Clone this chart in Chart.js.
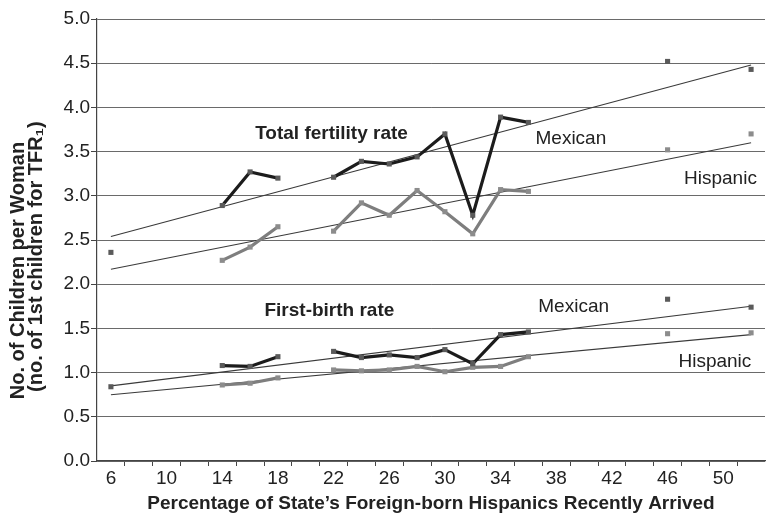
<!DOCTYPE html>
<html>
<head>
<meta charset="utf-8">
<script src="https://cdn.jsdelivr.net/npm/chart.js@4/dist/chart.umd.min.js"></script>
<style>
  html, body { margin: 0; padding: 0; background: #fff; }
  #wrap { width: 769px; height: 514px; position: relative; }
</style>
</head>
<body>
<div id="wrap"><canvas id="c" width="769" height="514"></canvas></div>
<script>
// Percentage of state's foreign-born Hispanics recently arrived (category positions)
const pct = [6, 8, 10, 12, 14, 16, 18, 20, 22, 24, 26, 28, 30, 32, 34, 36, 38, 40, 42, 44, 46, 48, 50, 52];

// Total fertility rate
const tfrMexican  = [2.36, null, null, null, 2.89, 3.27, 3.20, null, 3.21, 3.39, 3.36, 3.44, 3.70, 2.78, 3.89, 3.83, null, null, null, null, 4.52, null, null, 4.43];
const tfrHispanic = [null, null, null, null, 2.27, 2.42, 2.65, null, 2.60, 2.92, 2.78, 3.06, 2.82, 2.57, 3.07, 3.05, null, null, null, null, 3.52, null, null, 3.70];

// First-birth rate
const fbMexican   = [0.84, null, null, null, 1.08, 1.07, 1.18, null, 1.24, 1.17, 1.20, 1.17, 1.26, 1.10, 1.43, 1.46, null, null, null, null, 1.83, null, null, 1.74];
const fbHispanic  = [null, null, null, null, 0.86, 0.88, 0.94, null, 1.03, 1.02, 1.03, 1.07, 1.01, 1.06, 1.07, 1.18, null, null, null, null, 1.44, null, null, 1.45];

// Fitted trend lines (end points)
const trendX        = [6, 52];
const tfrMexTrend   = [2.54, 4.48];
const tfrHispTrend  = [2.17, 3.60];
const fbMexTrend    = [0.85, 1.75];
const fbHispTrend   = [0.75, 1.43];

// Tick labels
const xTickLabels = [6, 10, 14, 18, 22, 26, 30, 34, 38, 42, 46, 50];
const yTickValues = [0, 0.5, 1, 1.5, 2, 2.5, 3, 3.5, 4, 4.5, 5];

// Text annotations
const annotations = [
  { text: 'Total fertility rate', x: 21.85, y: 3.70, bold: true },
  { text: 'First-birth rate',     x: 21.7,  y: 1.70, bold: true },
  { text: 'Mexican',              x: 39.05, y: 3.64, bold: false },
  { text: 'Hispanic',             x: 49.8,  y: 3.19, bold: false },
  { text: 'Mexican',              x: 39.25, y: 1.75, bold: false },
  { text: 'Hispanic',             x: 49.4,  y: 1.12, bold: false }
];

const FONT = "'Liberation Sans', Arial, Helvetica, sans-serif";

function pts(xs, ys) { return xs.map((x, i) => ({ x: x, y: ys[i] })); }

function series(label, values, color, markerColor) {
  return {
    label: label,
    data: pts(pct, values),
    borderColor: color,
    backgroundColor: markerColor,
    borderWidth: 3.2,
    pointStyle: 'rect',
    pointRadius: 3.6,
    pointBorderWidth: 0,
    pointBackgroundColor: markerColor,
    spanGaps: false,
    tension: 0,
    order: 1
  };
}
function trend(label, values) {
  return {
    label: label,
    data: pts(trendX, values),
    borderColor: '#3a3a3a',
    borderWidth: 1.1,
    pointRadius: 0,
    tension: 0,
    order: 2
  };
}

const annotationPlugin = {
  id: 'annotations',
  afterDatasetsDraw(chart) {
    const ctx = chart.ctx;
    const xs = chart.scales.x, ys = chart.scales.y;
    ctx.save();
    ctx.fillStyle = '#222';
    ctx.textAlign = 'center';
    ctx.textBaseline = 'middle';
    annotations.forEach(a => {
      ctx.font = (a.bold ? 'bold ' : '') + '19px ' + FONT;
      ctx.fillText(a.text, xs.getPixelForValue(a.x), ys.getPixelForValue(a.y));
    });
    ctx.restore();
  }
};

new Chart(document.getElementById('c'), {
  type: 'line',
  data: {
    datasets: [
      series('Total fertility rate – Mexican', tfrMexican, '#1c1c1c', '#5a5a5a'),
      series('Total fertility rate – Hispanic', tfrHispanic, '#7e7e7e', '#8c8c8c'),
      series('First-birth rate – Mexican', fbMexican, '#1c1c1c', '#5a5a5a'),
      series('First-birth rate – Hispanic', fbHispanic, '#7e7e7e', '#8c8c8c'),
      trend('Trend TFR Mexican', tfrMexTrend),
      trend('Trend TFR Hispanic', tfrHispTrend),
      trend('Trend first-birth Mexican', fbMexTrend),
      trend('Trend first-birth Hispanic', fbHispTrend)
    ]
  },
  options: {
    responsive: false,
    animation: false,
    devicePixelRatio: 1,
    layout: { padding: { top: 19, right: 1, left: 4, bottom: 0 } },
    plugins: { legend: { display: false }, tooltip: { enabled: false } },
    scales: {
      x: {
        type: 'linear',
        min: 5,
        max: 53,
        afterBuildTicks(scale) {
          const t = [];
          for (let v = 5; v <= 53; v++) t.push({ value: v });
          scale.ticks = t;
        },
        afterFit(scale) { scale.height = 53; },
        grid: {
          drawOnChartArea: false,
          drawTicks: true,
          tickLength: 5,
          tickColor: (c) => (c.tick && c.tick.value % 2 === 1 && c.tick.value > 5 && c.tick.value < 53) ? '#444' : 'rgba(0,0,0,0)'
        },
        border: { color: '#444', width: 1.2 },
        ticks: {
          autoSkip: false,
          maxRotation: 0,
          padding: 1,
          color: '#222',
          font: { family: FONT, size: 19 },
          callback: (v) => xTickLabels.includes(v) ? String(v) : ''
        },
        title: {
          display: true,
          text: 'Percentage of State’s Foreign-born Hispanics Recently Arrived',
          color: '#222',
          font: { family: FONT, size: 19, weight: 'bold' },
          padding: { top: 0, bottom: -1 }
        }
      },
      y: {
        min: 0,
        max: 5,
        afterBuildTicks(scale) { scale.ticks = yTickValues.map(v => ({ value: v })); },
        afterFit(scale) { scale.width = 93; },
        grid: { color: '#6a6a6a', lineWidth: 1, tickLength: 6, tickColor: '#444' },
        border: { color: '#444', width: 1.2 },
        ticks: {
          color: '#222',
          padding: 1,
          font: { family: FONT, size: 19 },
          callback: (v) => Number(v).toFixed(1)
        },
        title: {
          display: true,
          text: ['No. of Children per Woman           ', '(no. of 1st children for TFR₁)      '],
          color: '#222',
          font: { family: FONT, size: 20, weight: 'bold', lineHeight: 0.88 },
          padding: { top: 6, bottom: 0 }
        }
      }
    }
  },
  plugins: [annotationPlugin]
});
</script>
</body>
</html>
